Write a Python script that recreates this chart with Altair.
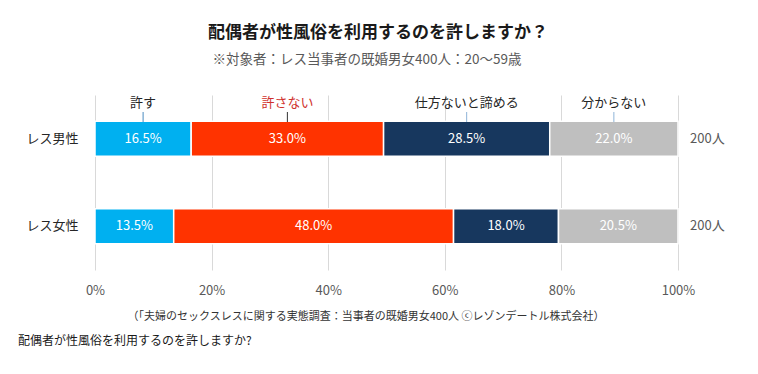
import altair as alt
import pandas as pd

categories = ["レス男性", "レス女性"]
answers = ["許す", "許さない", "仕方ないと諦める", "分からない"]
male = [16.5, 33.0, 28.5, 22.0]
female = [13.5, 48.0, 18.0, 20.5]
counts = ["200人", "200人"]
colors = ["#00B0F0", "#FF3300", "#17375E", "#BFBFBF"]
label_colors = ["#262626", "#D0312D", "#262626", "#262626"]
leader_colors = ["#4A8CC0", "#333333", "#8FB4D8", "#8FB4D8"]
x_ticks = [0, 20, 40, 60, 80, 100]

title_text = "配偶者が性風俗を利用するのを許しますか？"
subtitle_text = "※対象者：レス当事者の既婚男女400人：20～59歳"
source_text = "（「夫婦のセックスレスに関する実態調査：当事者の既婚男女400人 ⓒレゾンデートル株式会社）"
caption_text = "配偶者が性風俗を利用するのを許しますか?"

FONT = "Noto Sans CJK JP"

rows = []
for cat, vals in zip(categories, [male, female]):
    start = 0.0
    for i, (a, v) in enumerate(zip(answers, vals)):
        rows.append({"cat": cat, "answer": a, "order": i, "value": v,
                     "start": start, "end": start + v, "mid": start + v / 2,
                     "label": f"{v:.1f}%"})
        start += v
df = pd.DataFrame(rows)

top = df[df["cat"] == categories[0]].copy()
top["lcolor"] = label_colors
top["leader"] = leader_colors

cnt = pd.DataFrame({"cat": categories, "n": counts})

xscale = alt.Scale(domain=[0, 100])
yscale = alt.Scale(domain=categories, paddingInner=0.5, paddingOuter=0.25)

bars = alt.Chart(df).mark_bar(size=35, stroke="white", strokeWidth=1.5).encode(
    x=alt.X("start:Q", scale=xscale,
            axis=alt.Axis(values=x_ticks, labelExpr="datum.value + '%'", title=None,
                          domain=False, ticks=False, grid=True, gridColor="#D9D9D9",
                          labelFlush=False,
                          labelPadding=14, labelFontSize=13, labelColor="#595959",
                          labelFont=FONT)),
    x2="end:Q",
    y=alt.Y("cat:N", scale=yscale, sort=categories,
            axis=alt.Axis(title=None, domain=False, ticks=False, labelPadding=17,
                          labelFontSize=13, labelColor="#262626", labelFont=FONT)),
    color=alt.Color("answer:N", scale=alt.Scale(domain=answers, range=colors), legend=None),
)

inbar = alt.Chart(df).mark_text(color="white", fontSize=13, font=FONT).encode(
    x=alt.X("mid:Q", scale=xscale),
    y=alt.Y("cat:N", scale=yscale, sort=categories),
    text="label:N",
)

leg_text = alt.Chart(top).mark_text(fontSize=13, font=FONT, baseline="middle").encode(
    x=alt.X("mid:Q", scale=xscale),
    y=alt.value(8),
    text="answer:N",
    color=alt.Color("lcolor:N", scale=None),
)

leaders = alt.Chart(top).mark_rule(strokeWidth=1).encode(
    x=alt.X("mid:Q", scale=xscale),
    y=alt.value(17),
    y2=alt.value(27),
    color=alt.Color("leader:N", scale=None),
)

nlabels = alt.Chart(cnt).mark_text(align="left", fontSize=13, font=FONT, color="#595959", dx=12).encode(
    x=alt.datum(100, scale=xscale),
    y=alt.Y("cat:N", scale=yscale, sort=categories),
    text="n:N",
)

def note(text, x, y, size, color, align="center", weight="normal"):
    return alt.Chart(pd.DataFrame({"t": [text]})).mark_text(
        fontSize=size, font=FONT, color=color, align=align, fontWeight=weight, baseline="middle"
    ).encode(x=alt.value(x), y=alt.value(y), text="t:N")

title = note(title_text, 283, -62, 17, "#1a1a1a", weight="bold")
subtitle = note(subtitle_text, 272, -35, 13.5, "#595959")
source = note(source_text, 271, 222, 11, "#333333")
caption = note(caption_text, -77, 246, 12, "#1a1a1a", align="left")

chart = alt.layer(bars, inbar, leaders, leg_text, nlabels, title, subtitle, source, caption).properties(
    width=583, height=175,
    autosize=alt.AutoSizeParams(type="none"),
    padding={"left": 87, "top": 87, "right": 72, "bottom": 96},
).configure_view(stroke=None)

chart.save("out.html", embed_options={"renderer": "svg", "actions": False})
